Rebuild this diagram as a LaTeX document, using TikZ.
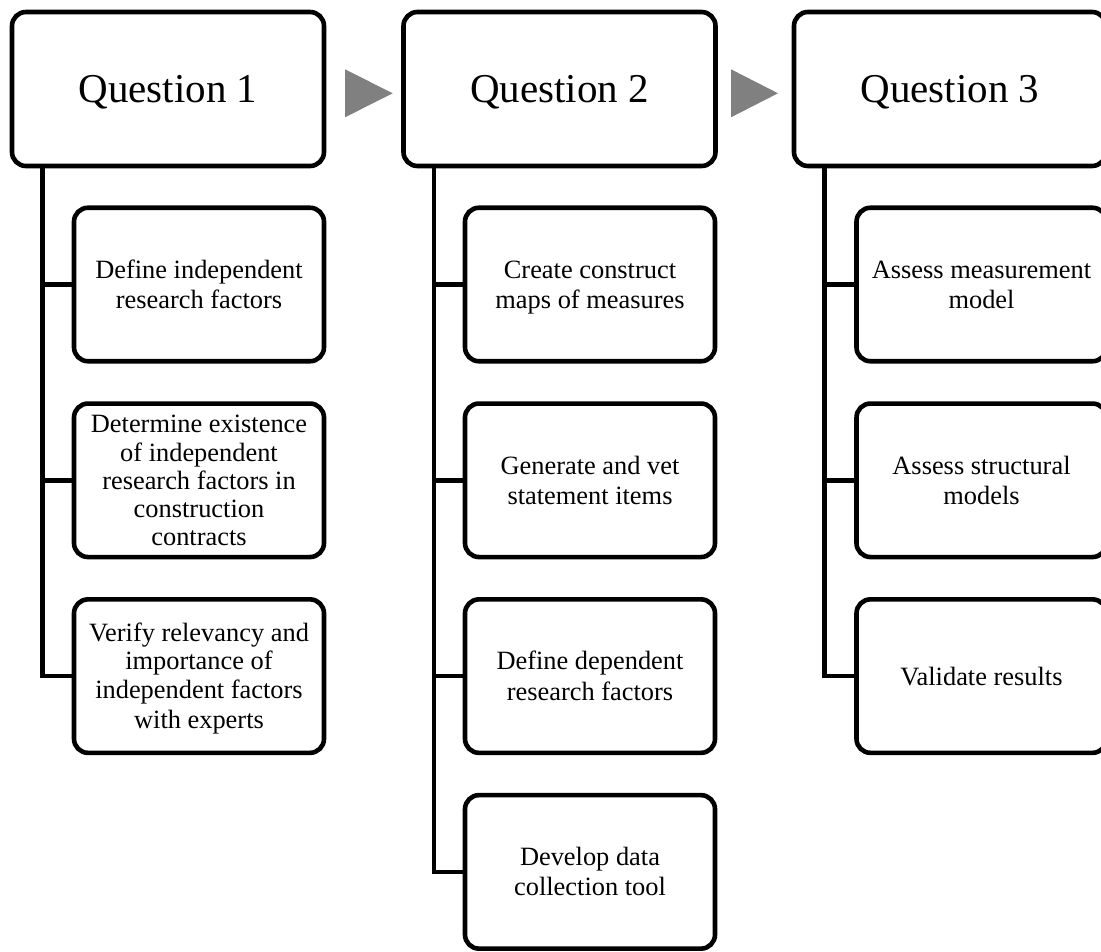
\documentclass[tikz,border=0pt]{standalone}
\usepackage{fontspec}
\setmainfont{Liberation Serif}
% line box of a text line: ascent and descent of the face
\newcommand\ls{\rule[-0.216em]{0pt}{1.107em}}
\begin{document}
\begin{tikzpicture}[x=1pt,y=-1pt,
  qbox/.style={draw, line width=4.6pt, rounded corners=14pt, outer sep=0pt,
    minimum width=312pt, minimum height=154pt, inner sep=0pt,
    font=\fontsize{41}{49}\selectfont},
  sbox/.style={draw, line width=4.6pt, rounded corners=14pt, outer sep=0pt,
    minimum width=250pt, minimum height=153.5pt, inner sep=0pt, align=center,
    font=\fontsize{26.4}{28.2}\selectfont},
  spine/.style={line width=4.6pt, line join=miter},
  flow/.style={fill=black!50}]
\useasboundingbox (0,0) rectangle (1101,952);
\clip (0,0) rectangle (1101,952);

% question headers
\node[qbox] (q1) at (168,89)   {\ls Question 1\ls};
\node[qbox] (q2) at (559.5,89) {\ls Question 2\ls};
\node[qbox] (q3) at (950,89)   {\ls Question 3\ls};

% flow arrows between the headers
\fill[flow] (345,69.3) -- (345,117.3) -- (392.7,93.3) -- cycle;
\fill[flow] (731,69.3) -- (731,117.3) -- (778,93.3) -- cycle;

% steps of question 1
\node[sbox] (a1) at (199,284.5) {\ls Define independent\\research factors\ls};
\node[sbox] (a2) at (199,480.3) {\ls Determine existence\\of independent\\research factors in\\construction\\contracts\ls};
\node[sbox] (a3) at (199,676.1) {\ls Verify relevancy and\\importance of\\independent factors\\with experts\ls};

% steps of question 2
\node[sbox] (b1) at (590,284.5) {\ls Create construct\\maps of measures\ls};
\node[sbox] (b2) at (590,480.3) {\ls Generate and vet\\statement items\ls};
\node[sbox] (b3) at (590,676.1) {\ls Define dependent\\research factors\ls};
\node[sbox] (b4) at (590,871.9) {\ls Develop data\\collection tool\ls};

% steps of question 3
\node[sbox] (c1) at (981.5,284.5) {\ls Assess measurement\\model\ls};
\node[sbox] (c2) at (981.5,480.3) {\ls Assess structural\\models\ls};
\node[sbox] (c3) at (981.5,676.1) {\ls Validate results\ls};

% spines hanging from each header
\coordinate (s1) at ([xshift=30.5pt]q1.south west);
\coordinate (s2) at ([xshift=30.5pt]q2.south west);
\coordinate (s3) at ([xshift=30.5pt]q3.south west);

\draw[spine] (s1) |- (a3.west);
\draw[spine] (s1 |- a1.west) -- (a1.west);
\draw[spine] (s1 |- a2.west) -- (a2.west);

\draw[spine] (s2) |- (b4.west);
\draw[spine] (s2 |- b1.west) -- (b1.west);
\draw[spine] (s2 |- b2.west) -- (b2.west);
\draw[spine] (s2 |- b3.west) -- (b3.west);

\draw[spine] (s3) |- (c3.west);
\draw[spine] (s3 |- c1.west) -- (c1.west);
\draw[spine] (s3 |- c2.west) -- (c2.west);
\end{tikzpicture}
\end{document}
